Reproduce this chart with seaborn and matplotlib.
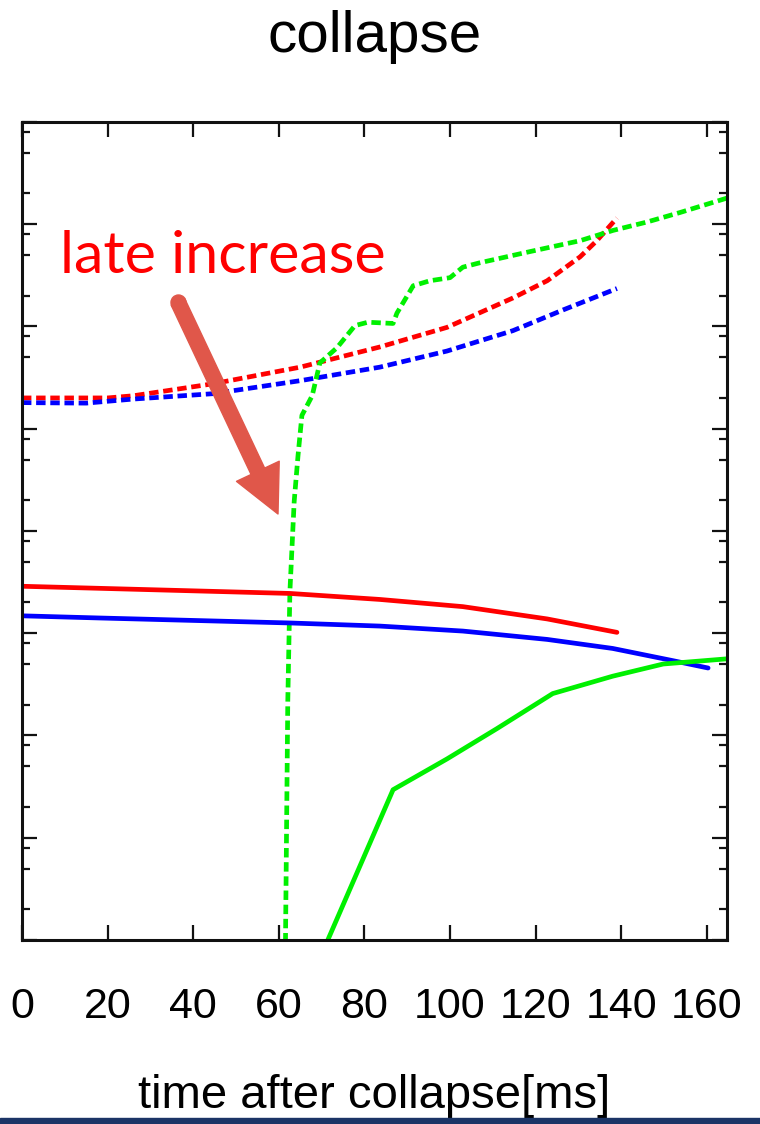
import matplotlib
matplotlib.use("Agg")
import matplotlib.pyplot as plt
from matplotlib.ticker import LogLocator, NullFormatter
from matplotlib.patches import Rectangle
import seaborn as sns

# ---------------------------------------------------------------
# values (time in ms, y on log axis)
# ---------------------------------------------------------------
t_red_dash = [0, 20, 26, 44.6, 65, 83.6, 99.3, 114.7, 122.7, 130.4, 134.3, 139]
y_red_dash = [2.0e5, 2.0e5, 2.1e5, 2.75e5, 4.0e5, 6.3e5, 9.8e5, 1.9e6, 2.8e6, 4.8e6, 6.9e6, 1.15e7]

t_blue_dash = [0, 15, 26, 44.6, 65, 83.6, 99.3, 114.7, 126.4, 139]
y_blue_dash = [1.8e5, 1.78e5, 1.95e5, 2.2e5, 2.95e5, 4.0e5, 5.75e5, 9.1e5, 1.45e6, 2.35e6]

t_green_dash = [61.5, 62.1, 62.6, 63.6, 64.5, 65.4, 67.8, 69.6, 73.6, 77.8, 80.8, 86.7,
                87.6, 91.4, 95.3, 100, 103, 107, 118.7, 130.4, 138.1, 146, 153.7, 164.7]
y_green_dash = [0.5, 214, 2570, 1.95e4, 5.5e4, 1.35e5, 2.1e5, 4.4e5, 6.2e5, 1.02e6, 1.1e6, 1.07e6,
                1.35e6, 2.5e6, 2.8e6, 3.0e6, 3.8e6, 4.2e6, 5.4e6, 6.9e6, 8.7e6, 1.05e7, 1.3e7, 1.8e7]

t_red_solid = [0, 18, 62.6, 83.6, 103, 122.7, 139]
y_red_solid = [2880, 2750, 2450, 2140, 1820, 1380, 1020]

t_blue_solid = [0, 18, 62.6, 83.6, 103, 122.7, 138, 152, 160.3]
y_blue_solid = [1480, 1410, 1260, 1175, 1050, 870, 710, 540, 457]

t_green_solid = [69, 86.7, 99.3, 111, 124, 138, 149.8, 164.7]
y_green_solid = [0.58, 29.5, 59, 117, 257, 380, 500, 562]

x_ticks = [0, 20, 40, 60, 80, 100, 120, 140, 160]

sns.set_style("ticks")
plt.rcParams["font.family"] = ["Liberation Sans", "DejaVu Sans"]
plt.rcParams["text.color"] = "black"
plt.rcParams["xtick.color"] = "black"
plt.rcParams["ytick.color"] = "black"
plt.rcParams["axes.labelcolor"] = "black"

fig = plt.figure(figsize=(7.6, 11.24), dpi=100)
ax = fig.add_axes([0.0289, 0.1637, 0.9276, 0.7278])

dash = (0, (2.0, 1.0))
series = [
    (t_red_dash, y_red_dash, "#ff0000", dash),
    (t_blue_dash, y_blue_dash, "#0000ff", dash),
    (t_green_dash, y_green_dash, "#00f000", dash),
    (t_red_solid, y_red_solid, "#ff0000", "-"),
    (t_blue_solid, y_blue_solid, "#0000ff", "-"),
    (t_green_solid, y_green_solid, "#00f000", "-"),
]
for tx, ty, col, ls in series:
    sns.lineplot(x=tx, y=ty, ax=ax, color=col, linestyle=ls, lw=3.4,
                 estimator=None, sort=False)

ax.set_yscale("log")
ax.set_xlim(0, 164.7)
ax.set_ylim(1, 1e8)
ax.set_xticks(x_ticks)
ax.yaxis.set_major_locator(LogLocator(base=10, numticks=20))
ax.yaxis.set_minor_locator(LogLocator(base=10, subs=[2, 5, 8], numticks=20))
ax.yaxis.set_major_formatter(NullFormatter())
ax.yaxis.set_minor_formatter(NullFormatter())
ax.tick_params(axis="both", which="both", direction="in", top=True, right=True,
               color="#111111", width=1.6)
ax.tick_params(axis="both", which="major", length=11)
ax.tick_params(axis="both", which="minor", length=5.5)
ax.tick_params(axis="x", labelsize=31, pad=34)
for sp in ax.spines.values():
    sp.set_linewidth(2.2)
    sp.set_color("#111111")

ax.set_xlabel("time after collapse[ms]", fontsize=34)
ax.xaxis.label.set_va("baseline")
ax.xaxis.set_label_coords(0.5, -0.2054)

fig.text(0.4928, 1 - 52 / 1124, "collapse", ha="center", va="baseline", fontsize=42)

# annotation
fig.text(60 / 760, 1 - 273 / 1124, "late increase", color="#ff0000",
         fontsize=42.7, family=["Lato", "DejaVu Sans"], va="baseline", ha="left")
ax.annotate("", xy=(278, 1124 - 514), xycoords="figure pixels",
            xytext=(178, 1124 - 302), textcoords="figure pixels",
            arrowprops=dict(arrowstyle="simple,head_length=34,head_width=34,tail_width=10.8",
                            mutation_scale=1, color="#e0574a", shrinkA=0, shrinkB=0))
# rounded tail of the arrow
ax.plot([178], [1124 - 302], marker="o", ms=10.8, color="#e0574a",
        transform=None, clip_on=False)

# dark band at the very bottom
fig.patches.append(Rectangle((0, 0), 1, 6 / 1124, transform=fig.transFigure,
                             color="#1b3466", zorder=10))

fig.savefig("out.png", dpi=100)
